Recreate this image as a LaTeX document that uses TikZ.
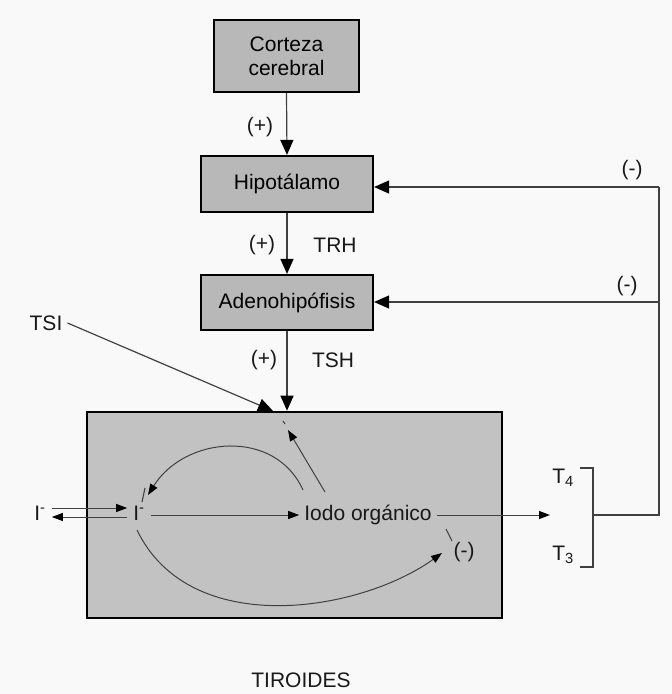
\documentclass[tikz,border=0pt]{standalone}
\usepackage{fontspec}
\setmainfont{Liberation Sans}
\usetikzlibrary{arrows.meta}
\definecolor{boxgray}{gray}{0.72}
\definecolor{thygray}{gray}{0.76}
\definecolor{bgc}{gray}{0.975}
\definecolor{ln}{gray}{0.25}
\begin{document}
\begin{tikzpicture}[x=1pt,y=-1pt,font=\fontsize{21}{24}\selectfont,
  organ/.style={draw=black,line width=2.2pt,fill=boxgray,align=center,inner sep=0pt},
  lbl/.style={inner sep=1pt,text=black!90},
  bigarr/.style={draw=ln,line width=1.2pt,-{Triangle[length=15pt,width=13pt,color=black]}},
  smallarr/.style={draw=ln,line width=1pt,-{Triangle[length=11pt,width=8pt,color=black]}},
  thinline/.style={draw=ln,line width=1.1pt}]
\fill[bgc] (0,0) rectangle (672,694);
\useasboundingbox (0,0) rectangle (672,694);

% organ boxes
\node[organ,minimum width=145,minimum height=72] (cortex) at (286.5,56) {Corteza\\cerebral};
\node[organ,minimum width=172,minimum height=56] (hipo) at (287,184) {Hipotálamo};
\node[organ,minimum width=172,minimum height=55] (adeno) at (287,302.5) {Adenohipófisis};
\node[draw=black,line width=2.6pt,fill=thygray,minimum width=415,minimum height=206,inner sep=0pt] (thy) at (294.5,515) {};
\node[lbl] (tiro) at (301,680) {TIROIDES};

% vertical chain
\draw[bigarr] (cortex.south) -- (hipo.north);
\draw[bigarr] (hipo.south) -- (adeno.north);
\draw[bigarr] (adeno.south) -- (adeno.south |- thy.north);
\node[lbl] (p1) at (260,127) {(+)};
\node[lbl] (p2) at (262,245) {(+)};
\node[lbl] (trh) at (335,245) {TRH};
\node[lbl] (p3) at (264,360) {(+)};
\node[lbl] (tsh) at (333,360) {TSH};

% TSI
\node[lbl,inner sep=5pt] (tsi) at (46,323) {TSI};
\coordinate (tsiend) at (273,411);
\draw[bigarr] (tsi.east) -- (tsiend);

% T4 / T3 and bracket
\node[lbl] (t4) at (563,478) {T\textsubscript{4}};
\node[lbl] (t3) at (563,555) {T\textsubscript{3}};
\coordinate (bt1) at (580,468);
\coordinate (bt2) at (593,468);
\coordinate (bb2) at (593,567);
\coordinate (bb1) at (580,567);
\coordinate (bmid) at (593,515);
\draw[thinline] (bt1) -- (bt2) -- (bb2) -- (bb1);

% feedback loop
\coordinate (fbbot) at (659,515);
\coordinate (fbtop) at (659,187);
\coordinate (fbmid) at (659,302);
\draw[thinline] (bmid) -- (fbbot) -- (fbtop);
\draw[bigarr] (fbtop) -- (hipo.east |- fbtop);
\draw[bigarr] (fbmid) -- (adeno.east |- fbmid);
\node[lbl] (m1) at (632,170) {(-)};
\node[lbl] (m2) at (627,286) {(-)};

% inside thyroid
\node[lbl,inner sep=6pt] (iext) at (40,513) {I\textsuperscript{-}};
\node[lbl,inner sep=6pt] (iint) at (139,513) {I\textsuperscript{-}};
\node[lbl,inner sep=5pt] (iodo) at (368,515) {Iodo orgánico};
\coordinate (outtip) at (550,515);
\draw[smallarr] ([yshift=5pt]iext.east) -- ([yshift=5pt]iint.west);
\draw[smallarr] ([yshift=-4pt]iint.west) -- ([yshift=-4pt]iext.east);
\draw[smallarr] (iint.east |- iodo.west) -- (iodo.west);
\draw[smallarr] (iodo.east) -- (outtip);

% curves
\coordinate (ucs) at (303,490);
\coordinate (uce) at (148,495);
\draw[smallarr] (ucs) .. controls (275,428) and (185,436) .. (uce);
\coordinate (sas) at (325,492);
\coordinate (sae) at (288,430);
\draw[smallarr] (sas) -- (sae);
\coordinate (lcs) at (137,530);
\coordinate (lce) at (442,553);
\draw[smallarr] (lcs) .. controls (190,640) and (360,612) .. (lce);
\node[lbl] (m3) at (464,552) {(-)};

% small marks
\coordinate (k1) at (283,421);
\coordinate (k2) at (285,424);
\draw[thinline] (k1) -- (k2);
\coordinate (k3) at (446,529);
\coordinate (k4) at (452,541);
\draw[thinline] (k3) -- (k4);
\coordinate (k5) at (142,502);
\coordinate (k6) at (145,488);
\draw[thinline] (k5) -- (k6);
\end{tikzpicture}
\end{document}
